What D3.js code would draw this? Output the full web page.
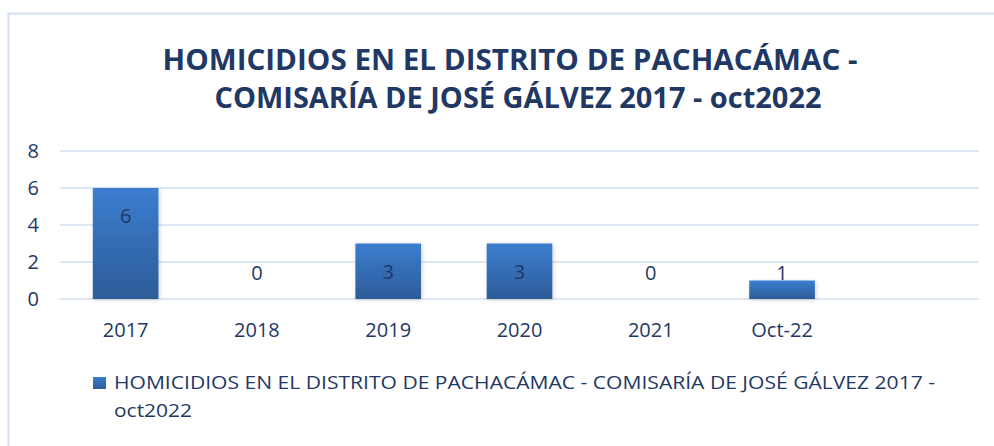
<!DOCTYPE html>
<html>
<head>
<meta charset="utf-8">
<script src="https://cdn.jsdelivr.net/npm/d3@7"></script>
<style>
  body { margin: 0; background: #fff; }
  svg { display: block; }
  text { font-family: "Open Sans", "Liberation Sans", sans-serif; fill: #1f3864; }
</style>
</head>
<body>
<svg id="chart" width="994" height="446"></svg>
<script>
// data
const categories = ['2017', '2018', '2019', '2020', '2021', 'Oct-22', '']
const values = [6, 0, 3, 3, 0, 1, null]
const yTicks = [0, 2, 4, 6, 8]
const titleLines = ['HOMICIDIOS EN EL DISTRITO DE PACHACÁMAC -', 'COMISARÍA DE JOSÉ GÁLVEZ 2017 - oct2022']
const legendLines = ['HOMICIDIOS EN EL DISTRITO DE PACHACÁMAC - COMISARÍA DE JOSÉ GÁLVEZ 2017 -', 'oct2022']

const svg = d3.select('#chart')
const W = 994, H = 446
const plot = {left: 60, right: 979, top: 151, bottom: 299}
const font = '"Open Sans", "Liberation Sans", sans-serif'

// outer frame
svg.append('path')
  .attr('d', `M8.5,${H} L8.5,13.5 L${W},13.5`)
  .attr('fill', 'none')
  .attr('stroke', '#d3e0f0')
  .attr('stroke-width', 2)

// gradient for the bars
const defs = svg.append('defs')
const grad = defs.append('linearGradient')
  .attr('id', 'barGrad')
  .attr('x1', 0).attr('y1', 0).attr('x2', 0).attr('y2', 1)
grad.append('stop').attr('offset', '0%').attr('stop-color', '#3b7dd0')
grad.append('stop').attr('offset', '100%').attr('stop-color', '#2d5c98')

const shadow = defs.append('filter').attr('id', 'shadow')
  .attr('x', '-20%').attr('y', '-20%').attr('width', '140%').attr('height', '140%')
shadow.append('feDropShadow')
  .attr('dx', 1).attr('dy', 1).attr('stdDeviation', 2)
  .attr('flood-color', '#000').attr('flood-opacity', 0.18)

// title
svg.append('g').selectAll('text')
  .data(titleLines)
  .join('text')
  .attr('x', (d, i) => i == 0 ? 510 : 518)
  .attr('y', (d, i) => 70 + i * 38)
  .attr('text-anchor', 'middle')
  .attr('font-size', 28)
  .attr('font-weight', 'bold')
  .attr('textLength', (d, i) => i == 0 ? 695 : 607)
  .attr('lengthAdjust', 'spacingAndGlyphs')
  .text(d => d)

const x = d3.scaleBand()
  .domain(categories.map((d, i) => i))
  .range([plot.left, plot.right])
  .paddingInner(0.5)
  .paddingOuter(0.25)

const y = d3.scaleLinear()
  .domain([0, 8])
  .range([plot.bottom, plot.top])

// gridlines
svg.append('g').selectAll('line')
  .data(yTicks)
  .join('line')
  .attr('x1', plot.left).attr('x2', plot.right)
  .attr('y1', d => y(d)).attr('y2', d => y(d))
  .attr('stroke', '#d3e0f0')
  .attr('stroke-width', 1.5)

// y axis labels
const yAxis = d3.axisLeft(y).tickValues(yTicks).tickSize(0).tickPadding(0)
svg.append('g')
  .attr('transform', `translate(39,0)`)
  .call(yAxis)
  .call(g => g.select('.domain').remove())
  .selectAll('text')
  .attr('font-size', 20)
  .attr('fill', '#1f3864')
  .attr('font-family', font)

// x axis labels
const xAxis = d3.axisBottom(x).tickFormat(i => categories[i]).tickSize(0).tickPadding(0)
svg.append('g')
  .attr('transform', `translate(0,${plot.bottom})`)
  .call(xAxis)
  .call(g => g.select('.domain').remove())
  .selectAll('text')
  .attr('y', 38)
  .attr('dy', null)
  .attr('font-size', 20)
  .attr('fill', '#1f3864')
  .attr('font-family', font)

// bars
const barData = values.map((v, i) => ({i: i, v: v})).filter(d => d.v != null)
svg.append('g').selectAll('rect')
  .data(barData.filter(d => d.v > 0))
  .join('rect')
  .attr('x', d => x(d.i))
  .attr('width', x.bandwidth())
  .attr('y', d => y(d.v))
  .attr('height', d => y(0) - y(d.v))
  .attr('fill', 'url(#barGrad)')
  .attr('filter', 'url(#shadow)')

// data labels
svg.append('g').selectAll('text')
  .data(barData)
  .join('text')
  .attr('x', d => x(d.i) + x.bandwidth() / 2)
  .attr('y', d => Math.min(y(d.v) + 28, y(0) - 26))
  .attr('dy', '0.35em')
  .attr('text-anchor', 'middle')
  .attr('font-size', 20)
  .attr('fill', d => d.v > 0 ? '#24497a' : '#1f3864')
  .text(d => d.v)

// legend
svg.append('rect')
  .attr('x', 93).attr('y', 377)
  .attr('width', 13).attr('height', 12)
  .attr('fill', 'url(#barGrad)')

svg.append('g').selectAll('text')
  .data(legendLines)
  .join('text')
  .attr('x', 114)
  .attr('y', (d, i) => 389 + i * 28)
  .attr('font-size', 19)
  .attr('textLength', (d, i) => i == 0 ? 821 : 78)
  .attr('lengthAdjust', 'spacingAndGlyphs')
  .text(d => d)
</script>
</body>
</html>
